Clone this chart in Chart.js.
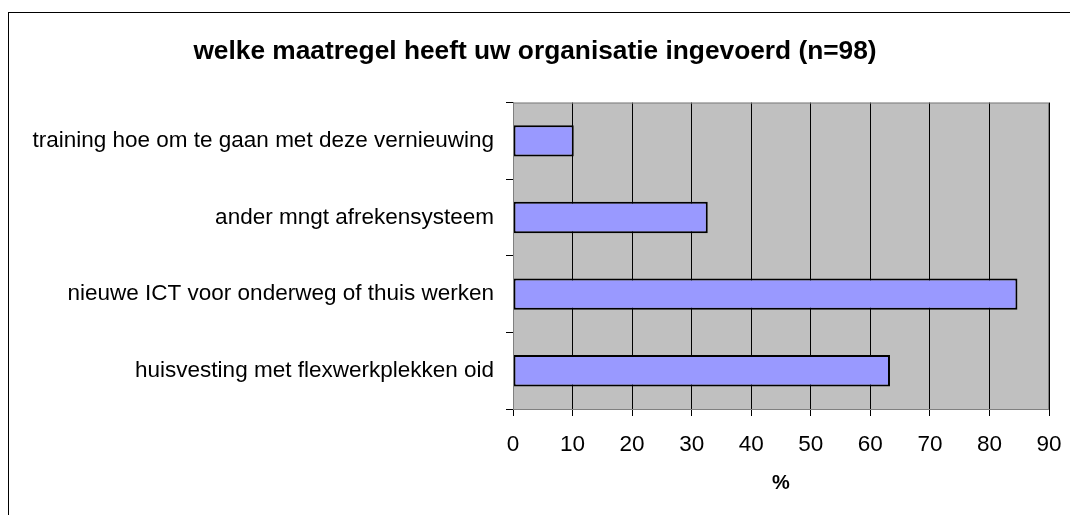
<!DOCTYPE html>
<html>
<head>
<meta charset="utf-8">
<script src="https://cdn.jsdelivr.net/npm/chart.js@4"></script>
<style>
    html, body { margin: 0; padding: 0; background: #FFFFFF; overflow: hidden; }
    #frame { position: absolute; left: 8px; top: 12px; width: 1100px; height: 600px; border: 1px solid #000000; }
    #wrap { position: absolute; left: 0; top: 0; width: 1070px; height: 515px; }
</style>
</head>
<body>
<div id="frame"></div>
<div id="wrap"><canvas id="maatregelChart" width="1070" height="515"></canvas></div>
<script>

var categories = [
    'training hoe om te gaan met deze vernieuwing',
    'ander mngt afrekensysteem',
    'nieuwe ICT voor onderweg of thuis werken',
    'huisvesting met flexwerkplekken oid'
];
var percentages = [10.2, 32.7, 84.7, 63.3];

var xTicks = [0, 10, 20, 30, 40, 50, 60, 70, 80, 90];

// grey plot area like the old excel chart
const plotArea = {
    id: 'plotArea',
    beforeDraw(chart) {
        const { ctx, chartArea: a } = chart;
        ctx.save();
        ctx.fillStyle = '#C0C0C0';
        ctx.fillRect(a.left, a.top, a.right - a.left, a.bottom - a.top);
        ctx.restore();
    },
    afterDraw(chart) {
        const { ctx, chartArea: a } = chart;
        ctx.save();
        ctx.strokeStyle = '#808080';
        ctx.lineWidth = 1;
        ctx.strokeRect(a.left + 0.5, a.top + 0.5, a.right - a.left - 1, a.bottom - a.top);
        ctx.restore();
    }
};

Chart.defaults.font.family = 'Liberation Sans, Arial, sans-serif';
Chart.defaults.color = '#000000';

var ctx = document.getElementById('maatregelChart').getContext('2d');

var myChart = new Chart(ctx, {
    type: 'bar',
    data: {
        labels: categories,
        datasets: [{
            data: percentages,
            backgroundColor: '#9999FF',
            borderColor: '#000000',
            borderWidth: 2,
            borderSkipped: false,
            categoryPercentage: 1,
            barPercentage: 0.41
        }]
    },
    options: {
        indexAxis: 'y',
        responsive: false,
        animation: false,
        layout: {
            padding: 0
        },
        scales: {
            x: {
                min: 0,
                max: 90,
                afterBuildTicks: function (scale) {
                    scale.ticks = xTicks.map(v => ({ value: v }));
                },
                afterFit: function (scale) {
                    scale.height = 106;
                    scale.paddingLeft = 0;
                    scale.paddingRight = 21;
                },
                grid: {
                    color: '#000000',
                    lineWidth: 1,
                    tickLength: 7
                },
                border: { display: false },
                ticks: {
                    padding: 15,
                    font: { size: 22.5 },
                    color: '#000000'
                },
                title: {
                    display: true,
                    text: '%',
                    font: { size: 20, weight: 'bold' },
                    color: '#000000',
                    padding: { top: 0, bottom: 20 }
                }
            },
            y: {
                afterFit: function (scale) {
                    scale.width = 513;
                },
                grid: {
                    offset: true,
                    drawOnChartArea: false,
                    color: '#000000',
                    tickLength: 7
                },
                border: { display: false },
                ticks: {
                    padding: 12,
                    font: { size: 22.5 },
                    color: '#000000'
                }
            }
        },
        plugins: {
            legend: { display: false },
            tooltip: { enabled: false },
            title: {
                display: true,
                text: 'welke maatregel heeft uw organisatie ingevoerd (n=98)',
                color: '#000000',
                font: { size: 26.3, weight: 'bold' },
                padding: { top: 36, bottom: 35 }
            }
        }
    },
    plugins: [plotArea]
});
</script>
</body>
</html>
